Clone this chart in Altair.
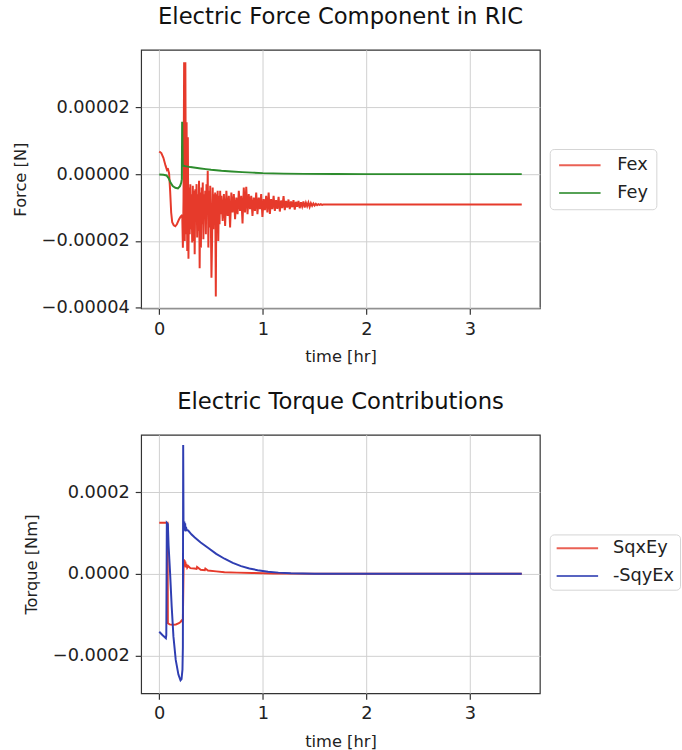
import altair as alt
import pandas as pd

FONT = "DejaVu Sans"
RED, GREEN, BLUE = "#e63a2b", "#2d8c2d", "#2f3eb2"

# ---------------- Electric force (values in micro-newtons) ----------------
# Fex before the switching event
fex_pre_t = [0.0, 0.02, 0.04, 0.06, 0.075, 0.085, 0.095, 0.105, 0.115, 0.125,
             0.14, 0.155, 0.17, 0.19, 0.205, 0.216]
fex_pre_v = [6.8, 6.3, 4.9, 2.6, 1.2, 1.4, 0.2, -5.0, -11.5, -14.4,
             -15.3, -15.6, -15.0, -13.6, -12.8, -12.4]

# Fex burst right after the event (sampled every 0.006 hr from 0.222 hr)
fex_burst_t0, fex_burst_dt = 0.222, 0.006
fex_burst_v = [-12.5, -22.0, -8.0, 33.5, -20.0, 33.5, -18.0, 15.5, -23.0, 11.0,
               -25.3, -4.0, -18.0, -3.0, -16.5, -6.0, -20.5, -3.5, -20.0, -5.0,
               -24.0, -4.5, -14.0, -3.0, -19.0, -6.0, -17.0, -2.0, -28.2, -5.5,
               -22.0, -4.0, -15.0, -2.5, -19.5, -6.0, -13.0, -5.0, -18.0, -3.0,
               -12.0, 1.0, -22.0, -5.0, -16.0, -3.5, -14.0, -31.0, -20.0, -4.0,
               -16.5, -6.0, -13.0, -5.5, -36.6, -6.0, -17.0, -5.0, -20.0, -6.5,
               -15.0, -5.0, -12.0, -6.5]

# Fex ringing down (sampled every 0.012 hr from 0.612 hr)
fex_ring_t0, fex_ring_dt = 0.612, 0.012
fex_ring_v = [-14.0, -6.0, -15.5, -5.0, -12.5, -6.5, -16.0, -5.5, -11.5, -6.0,
              -13.5, -7.0, -12.0, -5.0, -11.0, -6.5, -14.8, -4.0, -11.5, -3.8,
              -12.0, -6.0, -10.5, -6.5, -12.5, -7.0, -11.0, -5.5, -12.0, -7.0,
              -10.5, -6.0, -12.8, -7.5, -10.8, -6.5, -11.5, -5.5, -11.9, -7.5,
              -10.5, -6.5, -11.0, -7.8, -10.4, -6.8, -11.2, -7.9, -10.2, -6.6,
              -10.8, -8.0, -10.0, -7.6, -10.5, -8.2, -9.9, -7.8, -10.6, -8.3,
              -9.8, -8.0, -10.2, -8.4, -9.7, -8.2, -10.0, -8.6, -9.6, -8.5,
              -9.8, -8.7, -9.5, -8.8, -9.4, -8.9, -9.3, -9.0, -9.2, -9.0,
              -9.2, -9.1, -9.1]

# Fex steady state
fex_tail_t = [2.0, 2.5, 3.0, 3.5]
fex_tail_v = [-9.1, -9.1, -9.1, -9.1]

# Fey
fey_t = [0.0, 0.04, 0.07, 0.09, 0.11, 0.13, 0.155, 0.18, 0.20, 0.212, 0.218,
         0.221, 0.226, 0.25, 0.30, 0.35, 0.40, 0.45, 0.50, 0.60, 0.70, 0.80,
         0.90, 1.0, 1.2, 1.4, 1.7, 2.0, 3.5]
fey_v = [-0.1, -0.2, -0.4, -1.2, -2.6, -3.6, -4.1, -4.3, -3.6, -2.6, -1.5,
         15.7, 2.6, 2.4, 2.1, 1.9, 1.7, 1.5, 1.3, 1.0, 0.8, 0.6,
         0.45, 0.3, 0.15, 0.07, 0.02, 0.0, 0.0]

# ---------------- Electric torque (values in micro-newton-metres) ----------------
sqxey_t = [0.0, 0.04, 0.080, 0.083, 0.10, 0.13, 0.16, 0.19, 0.205, 0.218, 0.228,
           0.236, 0.240, 0.244, 0.248, 0.252, 0.256, 0.262, 0.27, 0.28, 0.30,
           0.34, 0.36, 0.365, 0.40, 0.44, 0.445, 0.47, 0.55, 0.63, 0.75, 0.9,
           1.1, 1.3, 1.6, 2.0, 3.5]
sqxey_v = [125, 125, 125, -121, -124, -125, -124, -121, -118, -114, -112,
           36, 20, 34, 18, 30, 16, 24, 15, 19, 14,
           13, 12, 17, 10, 9, 13, 8, 6, 4, 3, 2,
           1, 0.5, 0.2, 0, 0]

sqyex_t = [0.0, 0.03, 0.064, 0.068, 0.073, 0.083, 0.09, 0.105, 0.12, 0.137,
           0.159, 0.185, 0.205, 0.215, 0.224, 0.228, 0.231, 0.234, 0.238,
           0.242, 0.246, 0.25, 0.254, 0.258, 0.264, 0.28, 0.31, 0.343, 0.40,
           0.47, 0.55, 0.63, 0.71, 0.79, 0.87, 0.95, 1.05, 1.15, 1.27, 1.5,
           2.0, 3.5]
sqyex_v = [-142, -150, -158, -150, 125, 122, 70, 0, -80, -154,
           -211, -247, -261, -258, -235, -180, 316, 130, 112, 128,
           106, 124, 104, 115, 108, 106, 97, 89, 77,
           64, 49, 37, 27, 19, 13, 9, 5, 3, 1.5, 0.3,
           0, 0]


def frame(name, times, values, scale):
    return pd.DataFrame({
        "t": times,
        "v": [x * scale for x in values],
        "series": name,
        "i": range(len(times)),
    })


fex_t = (fex_pre_t
         + [round(fex_burst_t0 + fex_burst_dt * k, 4) for k in range(len(fex_burst_v))]
         + [round(fex_ring_t0 + fex_ring_dt * k, 4) for k in range(len(fex_ring_v))]
         + fex_tail_t)
fex_v = fex_pre_v + fex_burst_v + fex_ring_v + fex_tail_v

df_fex = frame("Fex", fex_t, fex_v, 1e-6)
df_fey = frame("Fey", fey_t, fey_v, 1e-6)
df_sqx = frame("SqxEy", sqxey_t, sqxey_v, 1e-6)
df_sqy = frame("-SqyEx", sqyex_t, sqyex_v, 1e-6)

X_DOMAIN = [-0.175, 3.675]
PLOT_W, PLOT_H = 404, 262


def legend(x, y, pad, label_offset):
    return alt.Legend(
        orient="none", legendX=x, legendY=y, title=None,
        symbolType="M-1,0H5", symbolSize=196, symbolStrokeWidth=2,
        symbolOpacity=0.8,
        labelFont=FONT, labelFontSize=18, labelColor="#222222",
        labelOffset=label_offset,
        padding=pad, rowPadding=10,
        strokeColor="#d4d4d4", fillColor="white", cornerRadius=4,
    )


def series_line(df, names, colors, ytitle, ydomain, yticks, yfmt, leg):
    return alt.Chart(df).mark_line(strokeWidth=2, clip=True).encode(
        x=alt.X("t:Q",
                scale=alt.Scale(domain=X_DOMAIN, nice=False, zero=False),
                axis=alt.Axis(values=[0, 1, 2, 3], format="d", title="time [hr]")),
        y=alt.Y("v:Q",
                scale=alt.Scale(domain=ydomain, nice=False, zero=False),
                axis=alt.Axis(values=yticks, format=yfmt, title=ytitle)),
        color=alt.Color("series:N",
                        scale=alt.Scale(domain=names, range=colors),
                        legend=leg),
        order=alt.Order("i:Q"),
    )


force_args = dict(names=["Fex", "Fey"], colors=[RED, GREEN], ytitle="Force [N]",
                  ydomain=[-4.02e-5, 3.72e-5], yticks=[-4e-5, -2e-5, 0, 2e-5],
                  yfmt=".5f", leg=legend(414, 100.5, 7.5, 43))
torque_args = dict(names=["SqxEy", "-SqyEx"], colors=[RED, BLUE], ytitle="Torque [Nm]",
                   ydomain=[-2.93e-4, 3.41e-4], yticks=[-2e-4, 0, 2e-4],
                   yfmt=".4f", leg=legend(414, 101, 5, 41))

force = alt.layer(
    series_line(df_fex, **force_args),
    series_line(df_fey, **force_args),
).properties(width=PLOT_W, height=PLOT_H,
             title="Electric Force Component in RIC")

torque = alt.layer(
    series_line(df_sqx, **torque_args),
    series_line(df_sqy, **torque_args),
).properties(width=PLOT_W, height=PLOT_H,
             title="Electric Torque Contributions")

chart = (
    alt.vconcat(force, torque, spacing=23)
    .resolve_scale(x="independent", y="independent", color="independent")
    .resolve_legend(color="independent")
    .properties(padding={"left": 11, "top": -0.5, "right": 0, "bottom": 0})
    .configure_view(stroke="#333333", strokeWidth=1.2)
    .configure_axis(
        labelFont=FONT, labelFontSize=18, labelColor="#222222",
        titleFont=FONT, titleFontSize=16.5, titleFontWeight="normal",
        titleColor="#222222",
        tickColor="#333333", tickSize=6, tickWidth=1.2, labelPadding=6,
        gridColor="#cfcfcf", gridWidth=1, domain=False,
    )
    .configure_axisX(titlePadding=11)
    .configure_axisY(titlePadding=13)
    .configure_title(font=FONT, fontSize=23, fontWeight="normal",
                     color="#111111", anchor="middle", offset=21.5)
)

chart.save("out.html", embed_options={"renderer": "svg", "actions": False})
